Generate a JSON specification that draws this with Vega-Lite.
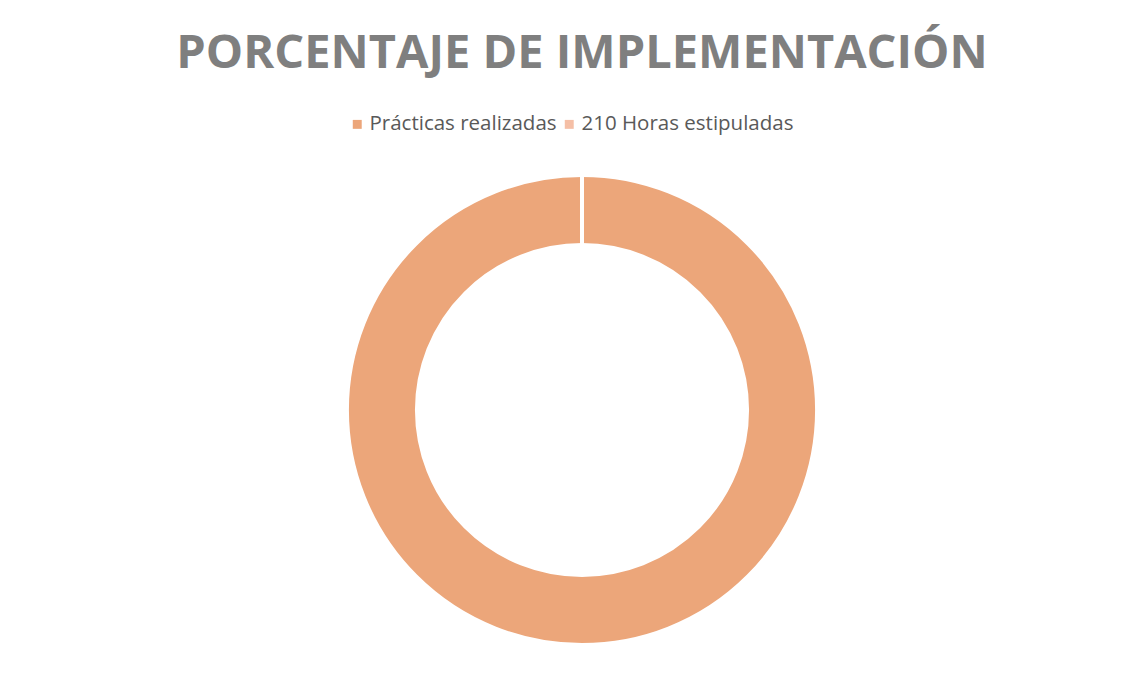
{
  "$schema": "https://vega.github.io/schema/vega-lite/v6.json",
  "width": 470,
  "height": 470,
  "autosize": "none",
  "padding": {"left": 347, "top": 175, "right": 328, "bottom": 28},
  "background": "white",
  "config": {"view": {"stroke": null}},
  "title": {
    "text": "PORCENTAJE DE IMPLEMENTACIÓN",
    "anchor": "middle",
    "font": "Open Sans",
    "fontSize": 47,
    "fontWeight": "bold",
    "color": "#7f7f7f",
    "offset": 36
  },
  "data": {
    "values": [
      {"category": "Prácticas realizadas", "value": 210},
      {"category": "210 Horas estipuladas", "value": 0}
    ]
  },
  "mark": {"type": "arc", "outerRadius": 235, "innerRadius": 165, "stroke": "white", "strokeWidth": 4},
  "encoding": {
    "theta": {"field": "value", "type": "quantitative", "stack": true},
    "order": {"field": "value", "type": "quantitative", "sort": "ascending"},
    "color": {
      "field": "category",
      "type": "nominal",
      "scale": {"domain": ["Prácticas realizadas", "210 Horas estipuladas"], "range": ["#eca67a", "#f5bfa6"]},
      "legend": {
        "title": null,
        "orient": "none",
        "direction": "horizontal",
        "legendX": 0,
        "legendY": -61,
        "symbolType": "square",
        "symbolSize": 80,
        "symbolStrokeWidth": 0,
        "labelFont": "Open Sans",
        "labelFontSize": 20.5,
        "labelColor": "#595959",
        "labelOffset": 2,
        "columnPadding": 2,
        "labelLimit": 400
      }
    }
  }
}
